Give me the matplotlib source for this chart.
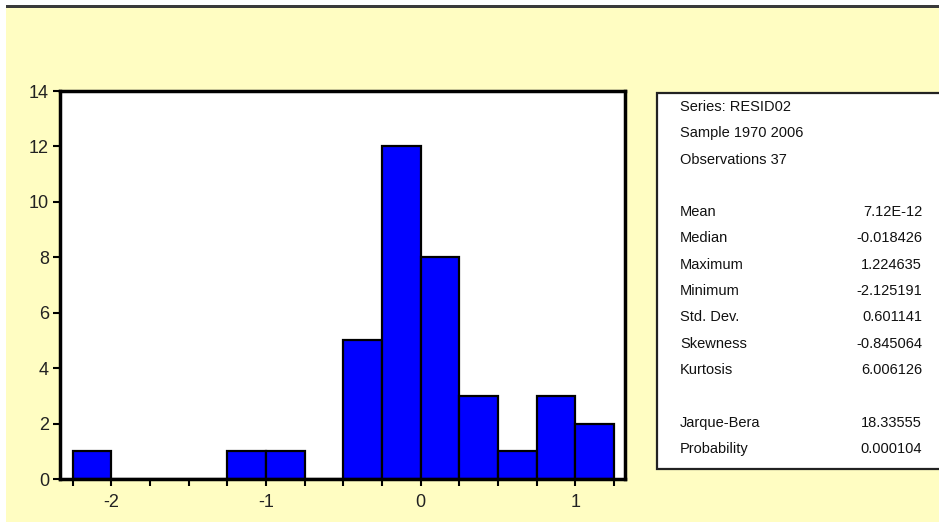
import matplotlib
matplotlib.use("Agg")
import matplotlib.pyplot as plt
from matplotlib.patches import Rectangle
import numpy as np

# histogram of residuals (bin width 0.25)
bin_edges = [-2.25, -2.0, -1.75, -1.5, -1.25, -1.0, -0.75, -0.5,
             -0.25, 0.0, 0.25, 0.5, 0.75, 1.0, 1.25]
counts = [1, 0, 0, 0, 1, 1, 0, 5, 12, 8, 3, 1, 3, 2]

x_ticks = [-2, -1, 0, 1]
y_ticks = [0, 2, 4, 6, 8, 10, 12, 14]

header_lines = ["Series: RESID02", "Sample 1970 2006", "Observations 37"]
stat_names = ["Mean", "Median", "Maximum", "Minimum", "Std. Dev.",
              "Skewness", "Kurtosis"]
stat_values = ["7.12E-12", "-0.018426", "1.224635", "-2.125191",
               "0.601141", "-0.845064", "6.006126"]
test_names = ["Jarque-Bera", "Probability"]
test_values = ["18.33555", "0.000104"]

plt.rcParams["font.family"] = ["Liberation Sans", "DejaVu Sans"]

W, H = 939, 523
fig = plt.figure(figsize=(W / 100, H / 100), dpi=100, facecolor="white")


def fx(px):
    return px / W


def fy(py):
    return 1 - py / H


# yellow background panel with dark top rule
fig.patches.append(Rectangle((fx(6), fy(522)), fx(W - 6), (522 - 5) / H,
                             transform=fig.transFigure, facecolor="#FFFDC2",
                             edgecolor="none", zorder=-2))
fig.patches.append(Rectangle((fx(6), fy(8)), fx(W - 6), 3 / H,
                             transform=fig.transFigure, facecolor="#3a3a3a",
                             edgecolor="none", zorder=-1))

ax = fig.add_axes([fx(60), fy(479), fx(625 - 60), (479 - 91) / H])
ax.set_zorder(1)
ax.set_facecolor("white")

edges = np.array(bin_edges)
ax.bar(edges[:-1], counts, width=np.diff(edges), align="edge",
       color="#0000FF", edgecolor="black", linewidth=1.6)

ax.set_xlim(-2.331, 1.321)
ax.set_ylim(0, 14)
ax.set_xticks(bin_edges)
ax.set_xticklabels(["" if e not in x_ticks else str(int(e)) for e in bin_edges])
ax.set_yticks(y_ticks)
ax.tick_params(direction="out", length=5, width=1.5, labelsize=13,
               colors="black", labelcolor="#222222", pad=3)
ax.tick_params(axis="x", pad=6)
for s in ax.spines.values():
    s.set_linewidth(2.5)
    s.set_color("black")

# statistics box
fig.patches.append(Rectangle((fx(657), fy(469)), fx(W + 10 - 657), (469 - 93) / H,
                             transform=fig.transFigure, facecolor="white",
                             edgecolor="#222222", linewidth=1.6, zorder=2))

step = 26.3
y0 = 107
rows = ([(t, "") for t in header_lines] + [("", "")]
        + list(zip(stat_names, stat_values)) + [("", "")]
        + list(zip(test_names, test_values)))
for i, (name, val) in enumerate(rows):
    y = y0 + i * step
    if name:
        fig.text(fx(680), fy(y), name, fontsize=10.5, va="center", ha="left",
                 color="#111111", zorder=3)
    if val:
        fig.text(fx(922), fy(y), val, fontsize=10.5, va="center", ha="right",
                 color="#111111", zorder=3)

fig.savefig("out.png", dpi=100, facecolor=fig.get_facecolor())
